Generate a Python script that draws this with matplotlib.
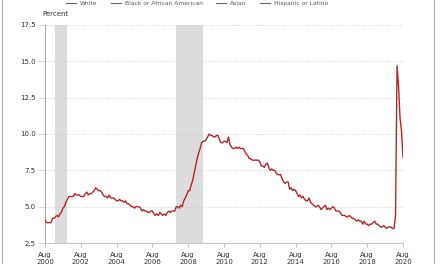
import matplotlib
matplotlib.use("Agg")
import matplotlib.pyplot as plt
from matplotlib.lines import Line2D
import numpy as np

# monthly unemployment rate, Aug 2000 - Aug 2020
rate = [4.1, 3.9, 3.9, 3.9, 3.9,
        4.2, 4.2, 4.3, 4.4, 4.3, 4.5, 4.6, 4.9, 5.0, 5.3, 5.5, 5.7,
        5.7, 5.7, 5.7, 5.9, 5.8, 5.8, 5.8, 5.7, 5.7, 5.7, 5.9, 6.0,
        5.8, 5.9, 5.9, 6.0, 6.1, 6.3, 6.2, 6.1, 6.1, 6.0, 5.8, 5.7,
        5.7, 5.6, 5.8, 5.6, 5.6, 5.6, 5.5, 5.4, 5.4, 5.5, 5.4, 5.4,
        5.3, 5.4, 5.2, 5.2, 5.1, 5.0, 5.0, 4.9, 5.0, 5.0, 5.0, 4.9,
        4.7, 4.8, 4.7, 4.7, 4.6, 4.6, 4.7, 4.7, 4.5, 4.4, 4.5, 4.4,
        4.6, 4.5, 4.4, 4.5, 4.4, 4.6, 4.7, 4.6, 4.7, 4.7, 4.7, 5.0,
        5.0, 4.9, 5.1, 5.0, 5.4, 5.6, 5.8, 6.1, 6.1, 6.5, 6.8, 7.3,
        7.8, 8.3, 8.7, 9.0, 9.4, 9.5, 9.5, 9.6, 9.8, 10.0, 9.9, 9.9,
        9.8, 9.8, 9.9, 9.9, 9.6, 9.4, 9.4, 9.5, 9.5, 9.4, 9.8, 9.3,
        9.1, 9.0, 9.0, 9.1, 9.0, 9.1, 9.0, 9.0, 9.0, 8.8, 8.6, 8.5,
        8.3, 8.3, 8.2, 8.2, 8.2, 8.2, 8.2, 8.1, 7.8, 7.8, 7.7, 7.9,
        8.0, 7.7, 7.5, 7.6, 7.5, 7.5, 7.3, 7.2, 7.2, 7.2, 6.9, 6.7,
        6.6, 6.7, 6.7, 6.2, 6.3, 6.1, 6.2, 6.1, 5.9, 5.7, 5.8, 5.6,
        5.7, 5.5, 5.4, 5.4, 5.6, 5.3, 5.2, 5.1, 5.0, 5.0, 5.1, 5.0,
        4.8, 4.9, 5.0, 5.1, 4.8, 4.9, 4.8, 4.9, 5.0, 4.9, 4.7, 4.7,
        4.7, 4.6, 4.4, 4.4, 4.4, 4.3, 4.3, 4.4, 4.3, 4.2, 4.2, 4.1,
        4.0, 4.1, 4.0, 4.0, 3.8, 4.0, 3.8, 3.8, 3.7, 3.8, 3.8, 3.9,
        4.0, 3.8, 3.8, 3.7, 3.6, 3.6, 3.7, 3.6, 3.5, 3.6, 3.6, 3.6,
        3.5, 3.5, 4.4, 14.7, 13.3, 11.1, 10.2, 8.4]

# recessions as (start, end) in months since Aug 2000
recessions = [(7, 15), (88, 106)]
tick_labels = ["Aug\n%d" % y for y in range(2000, 2021, 2)]
y_ticks = [2.5, 5.0, 7.5, 10.0, 12.5, 15.0, 17.5]
legend_names = ["White", "Black or African American", "Asian", "Hispanic or Latino"]

months = np.arange(len(rate))

fig = plt.figure(figsize=(4.4, 2.64), dpi=100)
ax = fig.add_axes([45/440, 1 - 243/264, 358/440, 218/264])

for start, end in recessions:
    ax.axvspan(start, end, color="#dcdcdc", lw=0, zorder=0)

ax.plot(months, rate, color="#b0282b", lw=1.0, zorder=3)

ax.set_xlim(0, 240)
ax.set_ylim(2.5, 17.5)
ax.set_xticks(range(0, 241, 24))
ax.set_xticklabels(tick_labels)
ax.set_yticks(y_ticks)
ax.set_yticklabels(["%.1f" % v for v in y_ticks])
ax.tick_params(labelsize=5, colors="#333333", length=4, width=0.6, pad=1.5)
ax.tick_params(axis="y", color="#c8d4e6", length=5)
ax.tick_params(axis="x", color="#bbbbbb", length=3, pad=3.5)
ax.yaxis.grid(True, ls=(0, (1, 1.5)), color="#cccccc", lw=0.6)
for s in ["top", "right"]:
    ax.spines[s].set_visible(False)
ax.spines["left"].set_color("#999999")
ax.spines["bottom"].set_color("#bbbbbb")
ax.spines["left"].set_linewidth(0.6)
ax.spines["bottom"].set_linewidth(0.6)

fig.text(42/440, 1 - 14/264, "Percent", fontsize=5, color="#333333", va="center")

# outer frame, cropped at top and bottom
frame = plt.Rectangle((2/440, -0.1), 432/440, 1.2, transform=fig.transFigure,
                      fill=False, ec="#aaaaaa", lw=0.8)
fig.add_artist(frame)

handles = [Line2D([], [], color="#666666", lw=0.8) for _ in legend_names]
fig.legend(handles, legend_names, loc="center", bbox_to_anchor=(197/440, 1 - 3.5/264),
           ncol=4, frameon=False, fontsize=4.3, labelcolor="#555555",
           handlelength=1.7, handletextpad=0.7, columnspacing=2.2,
           borderpad=0, borderaxespad=0)

fig.savefig("out.png", dpi=100)
